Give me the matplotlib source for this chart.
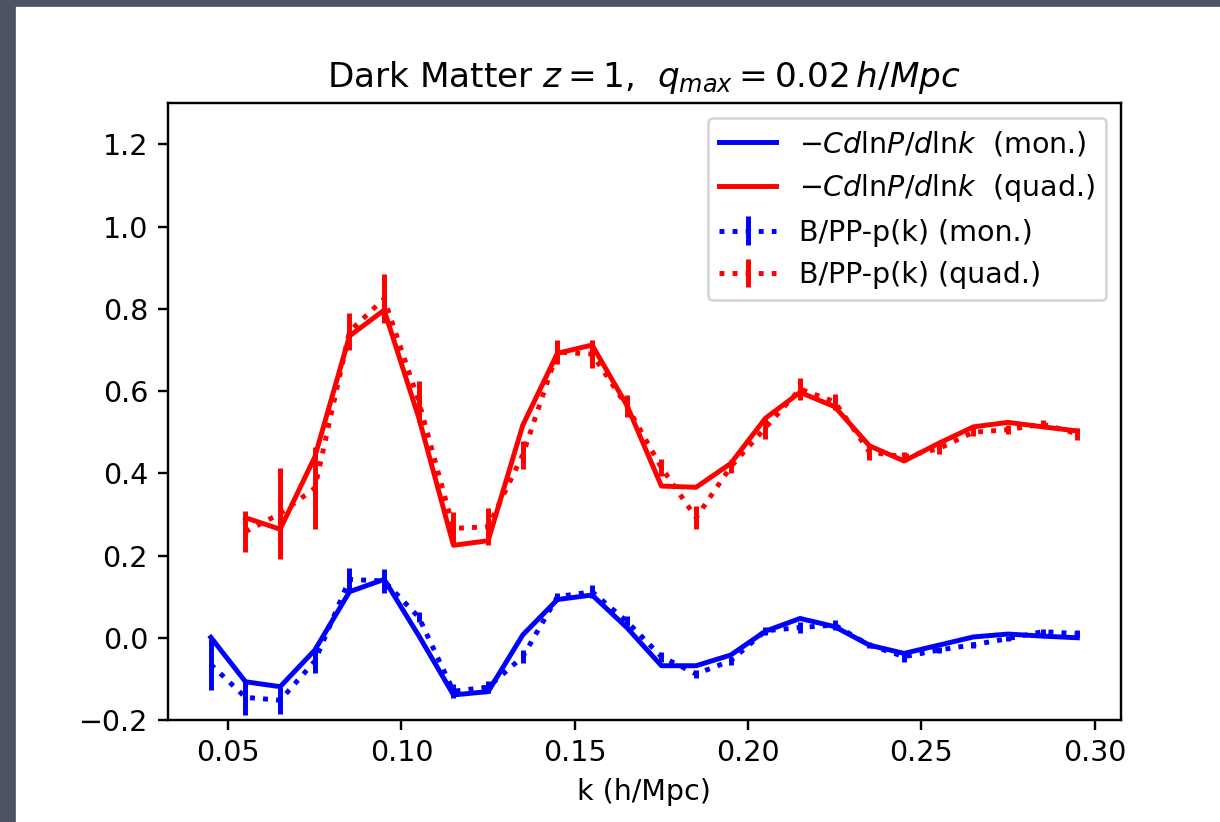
import numpy as np
import matplotlib.pyplot as plt
from matplotlib.patches import Rectangle

# k-Werte (Bin-Mitten)
k_mon = np.round(np.arange(0.045, 0.2951, 0.01), 3)
k_quad = k_mon[1:]

# -C dlnP/dlnk
theo_mon = [0.001, -0.107, -0.119, -0.030, 0.112, 0.142, 0.005, -0.139, -0.131,
            0.007, 0.093, 0.104, 0.025, -0.068, -0.068, -0.042, 0.016, 0.047,
            0.027, -0.018, -0.038, -0.018, 0.002, 0.009, 0.004, 0.000]
theo_quad = [0.292, 0.264, 0.440, 0.734, 0.797, 0.535, 0.225, 0.236,
             0.517, 0.692, 0.712, 0.566, 0.369, 0.366, 0.424, 0.534, 0.597,
             0.562, 0.467, 0.430, 0.473, 0.513, 0.524, 0.513, 0.503]

# B/PP - p(k) mit Fehlern
meas_mon = [-0.065, -0.145, -0.152, -0.057, 0.142, 0.138, 0.050, -0.130, -0.120,
            -0.046, 0.100, 0.112, 0.040, -0.046, -0.088, -0.056, 0.017, 0.025,
            0.031, -0.018, -0.046, -0.030, -0.017, -0.002, 0.015, 0.010]
err_mon = [0.062, 0.043, 0.033, 0.028, 0.027, 0.030, 0.012, 0.017, 0.014,
           0.016, 0.010, 0.016, 0.012, 0.012, 0.010, 0.010, 0.010, 0.014,
           0.012, 0.008, 0.012, 0.008, 0.007, 0.007, 0.006, 0.008]
meas_quad = [0.258, 0.302, 0.364, 0.745, 0.825, 0.575, 0.266, 0.270,
             0.445, 0.695, 0.690, 0.564, 0.414, 0.292, 0.416, 0.511, 0.605,
             0.574, 0.452, 0.440, 0.460, 0.500, 0.506, 0.520, 0.496]
err_quad = [0.050, 0.110, 0.100, 0.045, 0.060, 0.050, 0.040, 0.045,
            0.034, 0.030, 0.035, 0.027, 0.020, 0.028, 0.016, 0.027, 0.027,
            0.020, 0.020, 0.013, 0.013, 0.010, 0.011, 0.010, 0.015]

plt.rcParams['font.size'] = 10.7
plt.rcParams['lines.linewidth'] = 1.85
plt.rcParams['axes.linewidth'] = 0.9
plt.rcParams['xtick.major.width'] = 0.9
plt.rcParams['ytick.major.width'] = 0.9
plt.rcParams['xtick.major.size'] = 3.8
plt.rcParams['ytick.major.size'] = 3.8

fig = plt.figure(figsize=(1220 / 192, 822 / 192), dpi=192)
ax = fig.add_axes([0.1373, 0.1241, 0.7813, 0.7502])

# grauer Rand wie im Screenshot
fig.patches.append(Rectangle((0, 0), 14 / 1220, 1, transform=fig.transFigure,
                             color='#4c5363', zorder=10))
fig.patches.append(Rectangle((0, 1 - 5 / 822), 1, 5 / 822, transform=fig.transFigure,
                             color='#4c5363', zorder=10))

ax.plot(k_mon, theo_mon, color='blue', label=r'$-Cd\mathrm{ln}P/d\mathrm{ln}k$  (mon.)')
ax.plot(k_quad, theo_quad, color='red', label=r'$-Cd\mathrm{ln}P/d\mathrm{ln}k$  (quad.)')
ax.errorbar(k_mon, meas_mon, yerr=err_mon, fmt=':', color='blue', label='B/PP-p(k) (mon.)')
ax.errorbar(k_quad, meas_quad, yerr=err_quad, fmt=':', color='red', label='B/PP-p(k) (quad.)')

ax.set_ylim(-0.2, 1.3)
ax.set_xlabel('k (h/Mpc)')
ax.set_title(r'Dark Matter $z=1$,  $q_{max}=0.02\,h/Mpc$')
ax.legend(loc='upper right')

plt.savefig('out.png', dpi=192)
